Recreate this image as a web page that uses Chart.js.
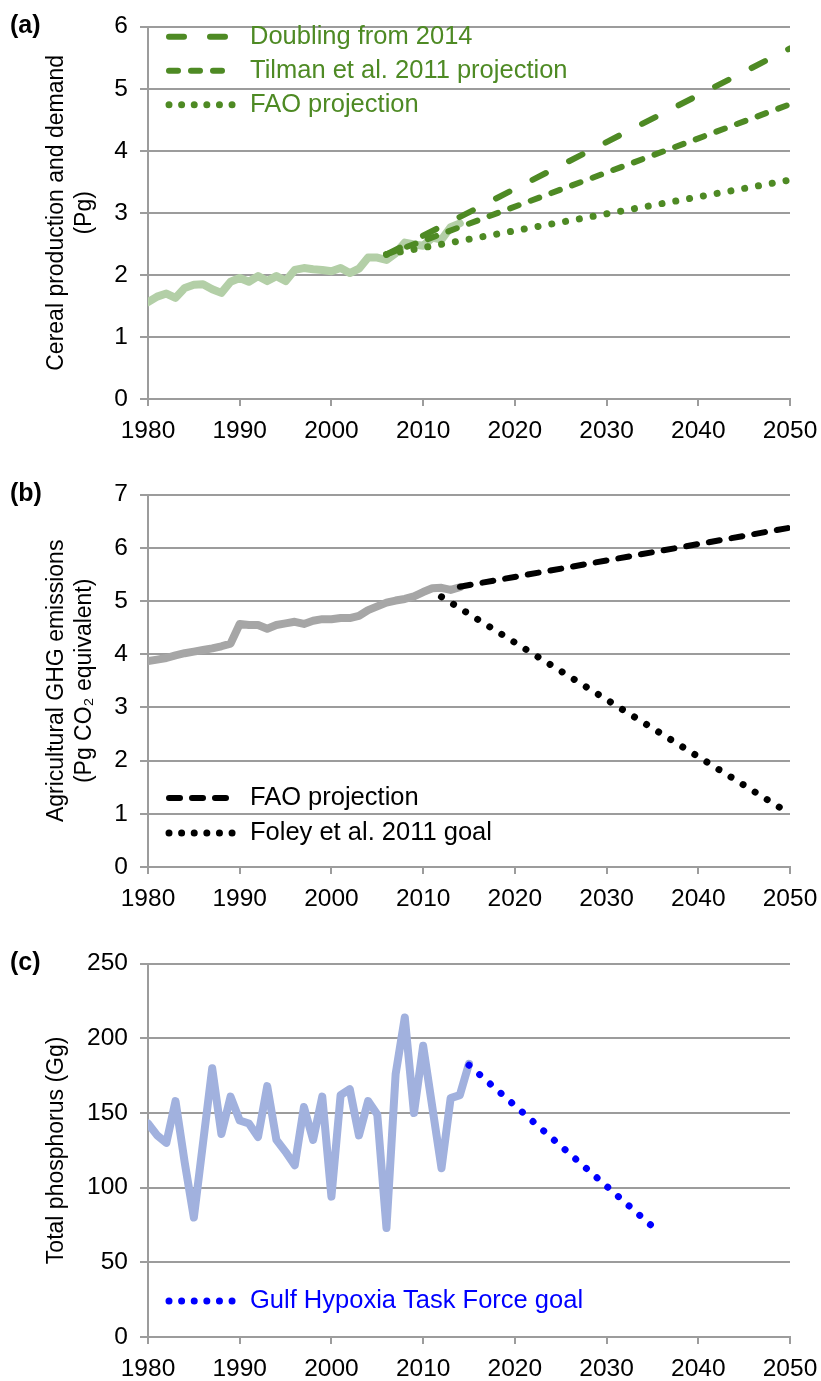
<!DOCTYPE html>
<html>
<head>
<meta charset="utf-8">
<script src="https://cdn.jsdelivr.net/npm/chart.js@4.4.1/dist/chart.umd.min.js"></script>
<style>
  html, body { margin: 0; padding: 0; background: #fff; }
  body { width: 821px; height: 1381px; position: relative; overflow: hidden; }
  canvas { position: absolute; left: 0; }
</style>
</head>
<body>
<canvas id="chartA" width="821" height="468" style="top:0px"></canvas>
<canvas id="chartB" width="821" height="468" style="top:468px"></canvas>
<canvas id="chartC" width="821" height="469" style="top:937px"></canvas>
<script>
// ---- data ----
const yearsA = [1980, 1981, 1982, 1983, 1984, 1985, 1986, 1987, 1988, 1989, 1990, 1991,
                1992, 1993, 1994, 1995, 1996, 1997, 1998, 1999, 2000, 2001, 2002, 2003,
                2004, 2005, 2006, 2007, 2008, 2009, 2010, 2011, 2012, 2013, 2014];
const cerealProduction = [1.56, 1.65, 1.70, 1.63, 1.79, 1.84, 1.85, 1.77, 1.71, 1.89, 1.95, 1.89,
                          1.98, 1.90, 1.98, 1.90, 2.08, 2.11, 2.09, 2.08, 2.06, 2.11, 2.03, 2.10,
                          2.28, 2.28, 2.24, 2.35, 2.52, 2.49, 2.47, 2.60, 2.57, 2.77, 2.83];
const projYearsA = [2006, 2050];
const doublingFrom2014 = [2.33, 5.65];
const tilmanProjection = [2.33, 4.75];
const faoCerealProjection = [2.33, 3.53];

const yearsB = yearsA;
const ghgEmissions = [3.87, 3.90, 3.93, 3.98, 4.02, 4.05, 4.08, 4.11, 4.15, 4.20, 4.57, 4.55,
                      4.55, 4.48, 4.55, 4.58, 4.61, 4.57, 4.63, 4.66, 4.66, 4.68, 4.68, 4.72,
                      4.83, 4.90, 4.97, 5.01, 5.04, 5.09, 5.17, 5.24, 5.25, 5.21, 5.26];
const faoGhgYears = [2014, 2050];
const faoGhgProjection = [5.27, 6.38];
const foleyYears = [2012, 2050];
const foleyGoal = [5.08, 1.0];

const yearsC = [1980, 1981, 1982, 1983, 1984, 1985, 1986, 1987, 1988, 1989, 1990, 1991,
                1992, 1993, 1994, 1995, 1996, 1997, 1998, 1999, 2000, 2001, 2002, 2003,
                2004, 2005, 2006, 2007, 2008, 2009, 2010, 2011, 2012, 2013, 2014, 2015];
const phosphorus = [143, 135, 130, 158, 117, 80, 130, 180, 136, 161, 145, 143,
                    134, 168, 132, 124, 115, 154, 132, 161, 94, 162, 166, 135,
                    158, 149, 73, 176, 214, 150, 195, 154, 113, 160, 162, 183];
const hypoxiaYears = [2015, 2035];
const hypoxiaGoal = [182, 74];

const xMin = 1980, xMax = 2050, xStep = 10;

// ---- styling ----
const FONT = "'Liberation Sans', Arial, Helvetica, sans-serif";
const GRID = '#9c9c9c';
const DARK_GREEN = '#4e8a24';

function toPoints(xs, ys) {
  return xs.map((x, i) => ({ x: x, y: ys[i] }));
}

// legend drawn as line samples inside the plot area
const lineLegend = {
  id: 'lineLegend',
  afterDatasetsDraw(chart, args, opts) {
    const { ctx, chartArea } = chart;
    const items = chart.data.datasets.filter(d => d.label);
    ctx.save();
    ctx.font = opts.fontSize + 'px ' + FONT;
    ctx.textBaseline = 'middle';
    ctx.textAlign = 'left';
    items.forEach((ds, i) => {
      const y = opts.anchor === 'top'
        ? chartArea.top + opts.offset + i * opts.rowHeight
        : chartArea.bottom - opts.offset - (items.length - 1 - i) * opts.rowHeight;
      ctx.beginPath();
      ctx.strokeStyle = ds.borderColor;
      ctx.lineWidth = ds.borderWidth;
      ctx.lineCap = ds.borderCapStyle || 'butt';
      ctx.setLineDash(ds.legendDash || ds.borderDash || []);
      ctx.moveTo(chartArea.left + 21, y);
      ctx.lineTo(chartArea.left + 85, y);
      ctx.stroke();
      ctx.setLineDash([]);
      ctx.fillStyle = opts.color;
      ctx.fillText(ds.label, chartArea.left + 102, y);
    });
    ctx.restore();
  }
};

const panelTag = {
  id: 'panelTag',
  afterDraw(chart, args, opts) {
    const ctx = chart.ctx;
    ctx.save();
    ctx.font = 'bold 25px ' + FONT;
    ctx.fillStyle = '#000';
    ctx.textBaseline = 'middle';
    ctx.textAlign = 'left';
    ctx.fillText(opts.text, 10, chart.chartArea.top - 1);
    ctx.restore();
  }
};

function makePanel(id, cfg) {
  return new Chart(document.getElementById(id), {
    type: 'line',
    data: { datasets: cfg.datasets },
    options: {
      responsive: false,
      animation: false,
      events: [],
      layout: { padding: { top: 23, right: 31, left: 0, bottom: 0 } },
      elements: { point: { radius: 0 }, line: { tension: 0 } },
      scales: {
        x: {
          type: 'linear',
          min: xMin,
          max: xMax,
          afterFit: s => { s.height = 69; s.paddingLeft = 0; s.paddingRight = 0; },
          ticks: {
            stepSize: xStep,
            autoSkip: false,
            maxRotation: 0,
            color: '#000',
            padding: 11,
            font: { family: FONT, size: 24.5 },
            callback: v => String(v)
          },
          grid: { drawOnChartArea: false, color: GRID, lineWidth: 2, tickLength: 7 },
          border: { display: true, color: GRID, width: 2 }
        },
        y: {
          min: 0,
          max: cfg.yMax,
          afterFit: s => { s.width = 148; },
          ticks: {
            stepSize: cfg.yStep,
            color: '#000',
            padding: 12,
            font: { family: FONT, size: 24.5 }
          },
          grid: { color: GRID, lineWidth: 2, tickLength: 8 },
          border: { display: true, color: GRID, width: 2 },
          title: {
            display: true,
            text: cfg.yTitle,
            color: '#000',
            font: { family: FONT, size: 23, lineHeight: 1.2 },
            padding: { top: 43, bottom: 0 }
          }
        }
      },
      plugins: {
        legend: { display: false },
        tooltip: { enabled: false },
        lineLegend: cfg.legend,
        panelTag: { text: cfg.tag }
      }
    },
    plugins: [lineLegend, panelTag]
  });
}

// (a) cereal production
makePanel('chartA', {
  tag: '(a)',
  yMax: 6,
  yStep: 1,
  yTitle: ['Cereal production and demand', '(Pg)'],
  legend: { anchor: 'top', offset: 10, rowHeight: 34, fontSize: 25.5, color: DARK_GREEN },
  datasets: [
    { label: '', data: toPoints(yearsA, cerealProduction), borderColor: '#b3cfa7',
      borderWidth: 8, borderJoinStyle: 'round', borderCapStyle: 'round', order: 2 },
    { label: 'Doubling from 2014', data: toPoints(projYearsA, doublingFrom2014), borderColor: DARK_GREEN,
      borderWidth: 6, borderDash: [15, 26], borderCapStyle: 'round', order: 1 },
    { label: 'Tilman et al. 2011 projection', data: toPoints(projYearsA, tilmanProjection), borderColor: DARK_GREEN,
      borderWidth: 6, borderDash: [9, 13], borderCapStyle: 'round', order: 1 },
    { label: 'FAO projection', data: toPoints(projYearsA, faoCerealProjection), borderColor: DARK_GREEN,
      borderWidth: 7, borderDash: [0.01, 14], legendDash: [0.01, 12.6], borderCapStyle: 'round', order: 1 }
  ]
});

// (b) agricultural GHG emissions
makePanel('chartB', {
  tag: '(b)',
  yMax: 7,
  yStep: 1,
  yTitle: ['Agricultural GHG emissions', '(Pg CO\u2082 equivalent)'],
  legend: { anchor: 'bottom', offset: 34, rowHeight: 35, fontSize: 25.5, color: '#000' },
  datasets: [
    { label: '', data: toPoints(yearsB, ghgEmissions), borderColor: '#a6a6a6',
      borderWidth: 8, borderJoinStyle: 'round', borderCapStyle: 'round', order: 2 },
    { label: 'FAO projection', data: toPoints(faoGhgYears, faoGhgProjection), borderColor: '#000',
      borderWidth: 6, borderDash: [11, 12], borderCapStyle: 'round', order: 1 },
    { label: 'Foley et al. 2011 goal', data: toPoints(foleyYears, foleyGoal), borderColor: '#000',
      borderWidth: 7, borderDash: [0.01, 14.2], legendDash: [0.01, 12.6], borderCapStyle: 'round', order: 1 }
  ]
});

// (c) total phosphorus
makePanel('chartC', {
  tag: '(c)',
  yMax: 250,
  yStep: 50,
  yTitle: 'Total phosphorus (Gg)',
  legend: { anchor: 'bottom', offset: 36, rowHeight: 35, fontSize: 25.5, color: '#0000ff' },
  datasets: [
    { label: '', data: toPoints(yearsC, phosphorus), borderColor: '#a1b1de',
      borderWidth: 8, borderJoinStyle: 'round', borderCapStyle: 'round', order: 2 },
    { label: 'Gulf Hypoxia Task Force goal', data: toPoints(hypoxiaYears, hypoxiaGoal), borderColor: '#0000ff',
      borderWidth: 7, borderDash: [0.01, 14.2], legendDash: [0.01, 12.6], borderCapStyle: 'round', order: 1 }
  ]
});
</script>
</body>
</html>
